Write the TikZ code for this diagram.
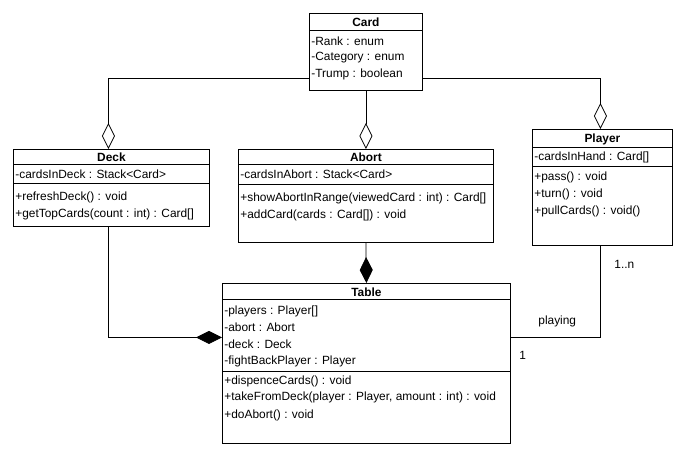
\documentclass[tikz,border=0pt]{standalone}
\usepackage{fontspec}
\setmainfont{Liberation Sans}
\usetikzlibrary{arrows.meta}
\begin{document}
\begin{tikzpicture}[x=1pt,y=-1pt,line width=0.8pt,
  classbox/.style={draw,anchor=north west,inner sep=0pt},
  txt/.style={anchor=west,inner sep=0pt,font=\fontsize{11.9}{13}\selectfont},
  ttl/.style={inner sep=0pt,font=\fontsize{11.9}{13}\selectfont\bfseries},
  agg/.style={-{Diamond[open,length=26pt,width=13pt,line width=0.8pt]}},
  comp/.style={-{Diamond[length=26pt,width=13pt]}}]
\fill[white] (0,0) rectangle (692,463);
\useasboundingbox (0,0) rectangle (692,463);
% Card
\node[classbox,minimum width=113pt,minimum height=77pt] (card) at (309,13) {};
\draw (card.west |- 0,30) -- (card.east |- 0,30);
\node[ttl] (cardt) at (card.north |- 0,22) {Card};
\node[txt] (carda1) at (311,41) {-Rank : enum};
\node[txt] (carda2) at (311,58) {-Category : enum};
\node[txt] (carda3) at (311,74) {-Trump : boolean};
% Deck
\node[classbox,minimum width=196pt,minimum height=77pt] (deck) at (13,149) {};
\draw (deck.west |- 0,164) -- (deck.east |- 0,164);
\draw (deck.west |- 0,183) -- (deck.east |- 0,183);
\node[ttl] (deckt) at (deck.north |- 0,157) {Deck};
\node[txt] (decka1) at (15,174) {-cardsInDeck : Stack<Card>};
\node[txt] (deckm1) at (15,197) {+refreshDeck() : void};
\node[txt] (deckm2) at (15,214) {+getTopCards(count : int) : Card[]};
% Abort
\node[classbox,minimum width=255pt,minimum height=93pt] (abort) at (238,149) {};
\draw (abort.west |- 0,164) -- (abort.east |- 0,164);
\draw (abort.west |- 0,184) -- (abort.east |- 0,184);
\node[ttl] (abortt) at (abort.north |- 0,157) {Abort};
\node[txt] (aborta1) at (240,174) {-cardsInAbort : Stack<Card>};
\node[txt] (abortm1) at (240,198) {+showAbortInRange(viewedCard : int) : Card[]};
\node[txt] (abortm2) at (240,215) {+addCard(cards : Card[]) : void};
% Player
\node[classbox,minimum width=140pt,minimum height=116pt] (player) at (532,129) {};
\draw (player.west |- 0,147) -- (player.east |- 0,147);
\draw (player.west |- 0,166) -- (player.east |- 0,166);
\node[ttl] (playert) at (player.north |- 0,139) {Player};
\node[txt] (playera1) at (534,157) {-cardsInHand : Card[]};
\node[txt] (playerm1) at (534,177) {+pass() : void};
\node[txt] (playerm2) at (534,194) {+turn() : void};
\node[txt] (playerm3) at (534,211) {+pullCards() : void()};
% Table
\node[classbox,minimum width=288pt,minimum height=160pt] (table) at (222,283) {};
\draw (table.west |- 0,299) -- (table.east |- 0,299);
\draw (table.west |- 0,371) -- (table.east |- 0,371);
\node[ttl] (tablet) at (table.north |- 0,292) {Table};
\node[txt] (tablea1) at (224,311) {-players : Player[]};
\node[txt] (tablea2) at (224,327) {-abort : Abort};
\node[txt] (tablea3) at (224,344) {-deck : Deck};
\node[txt] (tablea4) at (224,361) {-fightBackPlayer : Player};
\node[txt] (tablem1) at (224,381) {+dispenceCards() : void};
\node[txt] (tablem2) at (224,397) {+takeFromDeck(player : Player, amount : int) : void};
\node[txt] (tablem3) at (224,415) {+doAbort() : void};
% connectors
\draw[agg] ([yshift=12pt]card.south west) -| ([xshift=-3pt]deck.north);
\draw[agg] (card.south) -- (abort.north);
\draw[agg] ([yshift=12pt]card.south east) -| ([xshift=-2pt]player.north);
\draw[comp] (abort.south) -- (table.north);
\draw[comp] ([xshift=-3pt]deck.south) |- ([yshift=26pt]table.west);
\draw ([xshift=-2pt]player.south) |- ([yshift=26pt]table.east);
\node[txt] (lmany) at (614,264) {1..n};
\node[txt] (lplay) at (538,321) {playing};
\node[txt] (lone) at (519,355) {1};
\end{tikzpicture}
\end{document}
